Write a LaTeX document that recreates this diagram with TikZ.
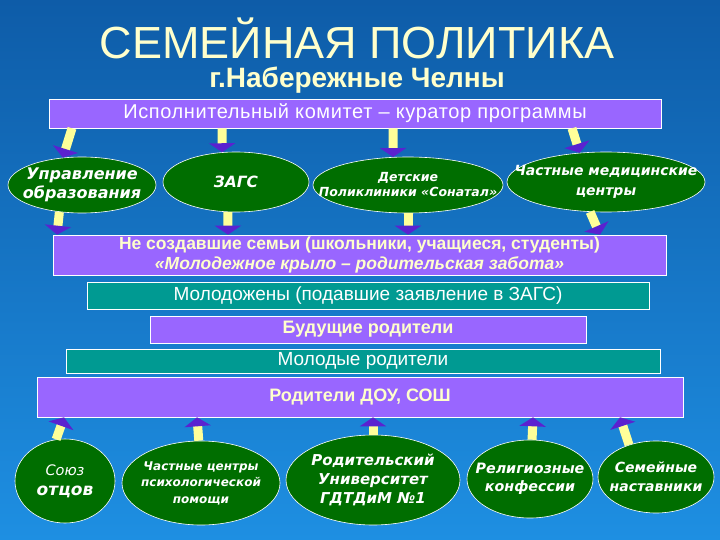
\documentclass[tikz,border=0pt]{standalone}
\usepackage{fontspec}
\setmainfont{Liberation Sans}
\newfontfamily\ovalfont{DejaVu Sans}
\definecolor{bgtop}{HTML}{0E5CA8}
\definecolor{bgbot}{HTML}{1E8FE2}
\definecolor{boxpurple}{HTML}{9966FF}
\definecolor{boxteal}{HTML}{009A92}
\definecolor{ovalgreen}{HTML}{006E00}
\definecolor{paleyellow}{HTML}{FFFFCC}
\definecolor{arrowshaft}{HTML}{FFFF99}
\definecolor{arrowhead}{HTML}{5A22D0}
\usepackage{tikz}
\usetikzlibrary{arrows.meta, shapes.geometric, calc}

\begin{document}
\begin{tikzpicture}[x=1pt, y=-1pt,
		pbox/.style = {draw = white, line width = 0.6pt, fill = boxpurple, text = paleyellow, inner sep = 0pt, align = center, font = \fontsize{#1}{20}\selectfont\bfseries},
		tbox/.style = {draw = white, line width = 0.6pt, fill = boxteal, text = white, inner sep = 0pt, font = \fontsize{#1}{20}\selectfont},
		oval/.style n args = {2}{ellipse, draw = white, line width = 0.6pt, fill = ovalgreen, text = white, inner sep = -30pt, align = center, font = \ovalfont\fontsize{#1}{#2}\selectfont\bfseries\itshape},
		blockarr/.style = {line width = 9pt, draw = arrowshaft, -{Triangle[width = 26pt, length = 9pt, color = arrowhead]}}]
		% background
		\fill[top color = bgtop, bottom color = bgbot] (0,0) rectangle (720,540);
		\node[font = \fontsize{45}{50}\selectfont, text = paleyellow] (title) at (357,38) {СЕМЕЙНАЯ ПОЛИТИКА};
		\node[font = \fontsize{28}{30}\selectfont\bfseries, text = paleyellow] (subtitle) at (357,80) {г.Набережные Челны};
		\node[pbox = 20, minimum width = 612pt, minimum height = 29pt, text = white, font = \fontsize{20}{22}\selectfont\addfontfeatures{LetterSpace=3}] (ispolkom) at (355,113.5) {Исполнительный комитет – куратор программы};
		% first row of ovals
		\node[oval = {16}{19}, minimum width = 148pt, minimum height = 56pt] (upr_obr) at (82,185) {Управление\\образования};
		\node[oval = {15.5}{18}, minimum width = 146pt, minimum height = 60pt] (zags) at (236,182) {ЗАГС};
		\node[oval = {12.5}{15}, minimum width = 190pt, minimum height = 56pt] (det_pol) at (408,185) {Детские\\Поликлиники «Сонатал»};
		\node[oval = {14}{20}, minimum width = 198pt, minimum height = 60pt] (med_centr) at (606,182) {Частные медицинские\\центры};
		% the bars
		\node[pbox = 17.5, minimum width = 613pt, minimum height = 40pt] (ne_sozd) at (359.5,255) {Не создавшие семьи (школьники, учащиеся, студенты)\\\textit{«Молодежное крыло – родительская забота»}};
		\node[tbox = 19, minimum width = 562pt, minimum height = 27pt] (molodozh) at (368,295.5) {Молодожены (подавшие заявление в ЗАГС)};
		\node[pbox = 18, minimum width = 436pt, minimum height = 27pt] (bud_rod) at (368,329.5) {Будущие родители};
		\node[tbox = 19, minimum width = 594pt, minimum height = 24pt] (mol_rod) at (363,361) {Молодые родители};
		\node[pbox = 18, minimum width = 646pt, minimum height = 40pt] (rod_dou) at (360,397) {Родители ДОУ, СОШ};
		% second row of ovals
		\node[oval = {17}{20}, minimum width = 100pt, minimum height = 84pt] (soyuz) at (65,481) {{\fontsize{14.5}{16}\selectfont\mdseries Союз}\\отцов};
		\node[oval = {12}{16.5}, minimum width = 158pt, minimum height = 84pt] (psy_centr) at (201,483) {Частные центры\\психологической\\помощи};
		\node[oval = {15}{19}, minimum width = 174pt, minimum height = 90pt] (rod_univ) at (373,480) {Родительский\\Университет\\ГДТДиМ №1};
		\node[oval = {14.3}{18.5}, minimum width = 126pt, minimum height = 78pt] (relig) at (530,479) {Религиозные\\конфессии};
		\node[oval = {14}{19}, minimum width = 116pt, minimum height = 72pt] (nastav) at (656,477) {Семейные\\наставники};
		% arrows
		\draw[blockarr] (ispolkom.south -| 72,0) -- (upr_obr.125);
		\draw[blockarr] (ispolkom.south -| 222,0) -- (zags.115);
		\draw[blockarr] (ispolkom.south -| 393,0) -- (det_pol.118);
		\draw[blockarr] (ispolkom.south -| 572,0) -- (med_centr.132);
		\draw[blockarr] (upr_obr.230) -- (ne_sozd.north -| 57,0);
		\draw[blockarr] (zags.255) -- (ne_sozd.north -| 228,0);
		\draw[blockarr] (det_pol.south) -- (ne_sozd.north -| 408,0);
		\draw[blockarr] (med_centr.242) -- (ne_sozd.north -| 600,0);
		\draw[blockarr] (soyuz.102) -- (rod_dou.south -| 64,0);
		\draw[blockarr] (psy_centr.93) -- (rod_dou.south -| 197,0);
		\draw[blockarr] (rod_univ.north) -- (rod_dou.south -| 373,0);
		\draw[blockarr] (relig.87) -- (rod_dou.south -| 533,0);
		\draw[blockarr] (nastav.130) -- (rod_dou.south -| 620,0);
	\end{tikzpicture}
\end{document}
